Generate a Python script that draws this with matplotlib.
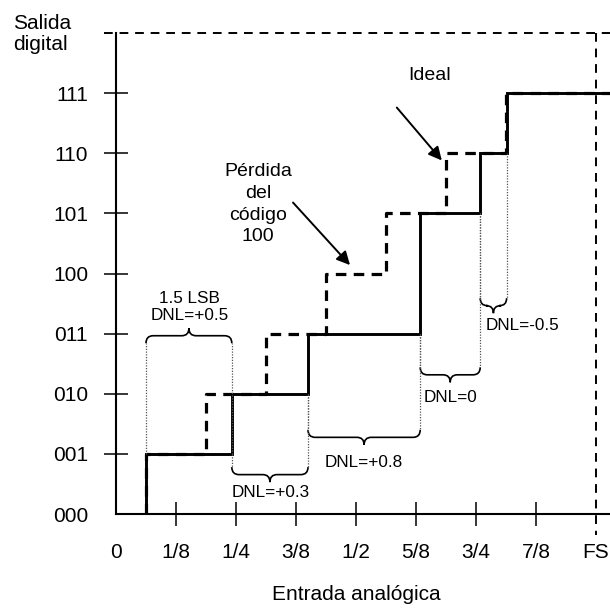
import matplotlib
matplotlib.use("Agg")
import matplotlib.pyplot as plt
from matplotlib.path import Path
from matplotlib.patches import PathPatch

plt.rcParams['font.family'] = ['Liberation Sans', 'DejaVu Sans']

# ---- data ----
x_ticks = [0, 1, 2, 3, 4, 5, 6, 7, 8]
x_labels = ['0', '1/8', '1/4', '3/8', '1/2', '5/8', '3/4', '7/8', 'FS']
y_ticks = [0, 1, 2, 3, 4, 5, 6, 7]
y_labels = ['000', '001', '010', '011', '100', '101', '110', '111']

ideal_transitions = [0.5, 1.5, 2.5, 3.5, 4.5, 5.5, 6.5]
ideal_codes = [1, 2, 3, 4, 5, 6, 7]
actual_transitions = [0.5, 1.93, 3.2, 5.07, 6.07, 6.51]
actual_codes = [1, 2, 3, 5, 6, 7]
x_end = 8.233

# braces: (x1, x2, level at x1, level at x2, tip y, direction, label, label x, label y, ha)
braces = [
    (0.5, 1.93, 1, 1, 2.84, +1, '1.5 LSB\nDNL=+0.5', 1.23, 3.44, 'center'),
    (1.93, 3.2, 1, 2, 0.78, -1, 'DNL=+0.3', 2.57, 0.35, 'center'),
    (3.2, 5.07, 2, 3, 1.40, -1, 'DNL=+0.8', 4.13, 0.86, 'center'),
    (5.07, 6.07, 3, 5, 2.44, -1, 'DNL=0', 5.57, 1.93, 'center'),
    (6.07, 6.51, 5, 6, 3.59, -1, 'DNL=-0.5', 6.16, 3.14, 'left'),
]

fig = plt.figure(figsize=(6.10, 6.08), dpi=100)
ax = fig.add_axes([116/610, 94/608, 494/610, 481/608])
ax.set_xlim(0, x_end)
ax.set_ylim(0, 8)

for s in ['top', 'right']:
    ax.spines[s].set_visible(False)
for s in ['left', 'bottom']:
    ax.spines[s].set_linewidth(1.5)

ax.set_xticks(x_ticks)
ax.set_xticklabels(x_labels, fontsize=15)
ax.set_yticks(y_ticks)
ax.set_yticklabels(y_labels, fontsize=15)
ax.tick_params(axis='both', direction='inout', length=17.3, width=1.1, pad=11.5)
ax.tick_params(axis='x', pad=12.5)
xt = ax.xaxis.get_major_ticks()
xt[0].tick1line.set_visible(False)
xt[-1].tick1line.set_visible(False)
ax.yaxis.get_major_ticks()[0].tick1line.set_visible(False)

# top dashed and FS dashed lines
ax.plot([-0.2, x_end], [8, 8], color='black', lw=1.4, ls=(0, (4.5, 3.5)), clip_on=False)
ax.plot([8, 8], [8, -0.35], color='black', lw=1.4, ls=(0, (4.5, 3.5)), clip_on=False)

# actual staircase (solid)
ax_x = [actual_transitions[0]] + actual_transitions + [x_end]
ax_y = [0] + actual_codes + [actual_codes[-1]]
ax.step(ax_x, ax_y, where='post', color='black', lw=2.1, solid_joinstyle='miter')

# ideal staircase (dashed)
id_x = [ideal_transitions[0]] + ideal_transitions + [x_end]
id_y = [0] + ideal_codes + [ideal_codes[-1]]
ax.step(id_x, id_y, where='post', color='black', lw=2.3, ls=(0, (3.3, 2.3)))


def brace(x1, x2, y0, d, h=0.25, r=0.12):
    xm = (x1 + x2) / 2
    yh = y0 + d * h / 2
    yp = y0 + d * h
    verts = [(x1, y0), (x1, yh), (x1 + r, yh),
             (xm - r, yh),
             (xm, yh), (xm, yp),
             (xm, yh), (xm + r, yh),
             (x2 - r, yh),
             (x2, yh), (x2, y0)]
    codes = [Path.MOVETO, Path.CURVE3, Path.CURVE3,
             Path.LINETO,
             Path.CURVE3, Path.CURVE3,
             Path.CURVE3, Path.CURVE3,
             Path.LINETO,
             Path.CURVE3, Path.CURVE3]
    ax.add_patch(PathPatch(Path(verts, codes), fill=False, lw=1.2, edgecolor='black'))


for x1, x2, l1, l2, ty, d, lab, lx, ly, ha in braces:
    ax.plot([x1, x1], [l1, ty], color='#555555', lw=0.9, ls=(0, (1, 1.2)))
    ax.plot([x2, x2], [l2, ty], color='#555555', lw=0.9, ls=(0, (1, 1.2)))
    brace(x1, x2, ty, d)
    ax.text(lx, ly, lab, fontsize=12.3, ha=ha, va='center', linespacing=1.2)

# annotations
arrow = dict(arrowstyle='-|>', lw=1.4, color='black', mutation_scale=20,
             shrinkA=0, shrinkB=0)
ax.text(5.23, 7.29, 'Ideal', fontsize=14, ha='center', va='center')
ax.annotate('', xy=(5.43, 5.88), xytext=(4.68, 6.76), arrowprops=arrow)
ax.text(2.37, 5.15, 'Pérdida\ndel\ncódigo\n100', fontsize=14, ha='center',
        va='center', linespacing=1.36)
ax.annotate('', xy=(3.9, 4.14), xytext=(2.95, 5.18), arrowprops=arrow)

fig.text(13/610, 1 - 14/608, 'Salida\ndigital', fontsize=15, ha='left', va='top',
         linespacing=1.15)
fig.text(356/610, 1 - 594/608, 'Entrada analógica', fontsize=15, ha='center', va='center')

fig.savefig('out.png', dpi=100)
